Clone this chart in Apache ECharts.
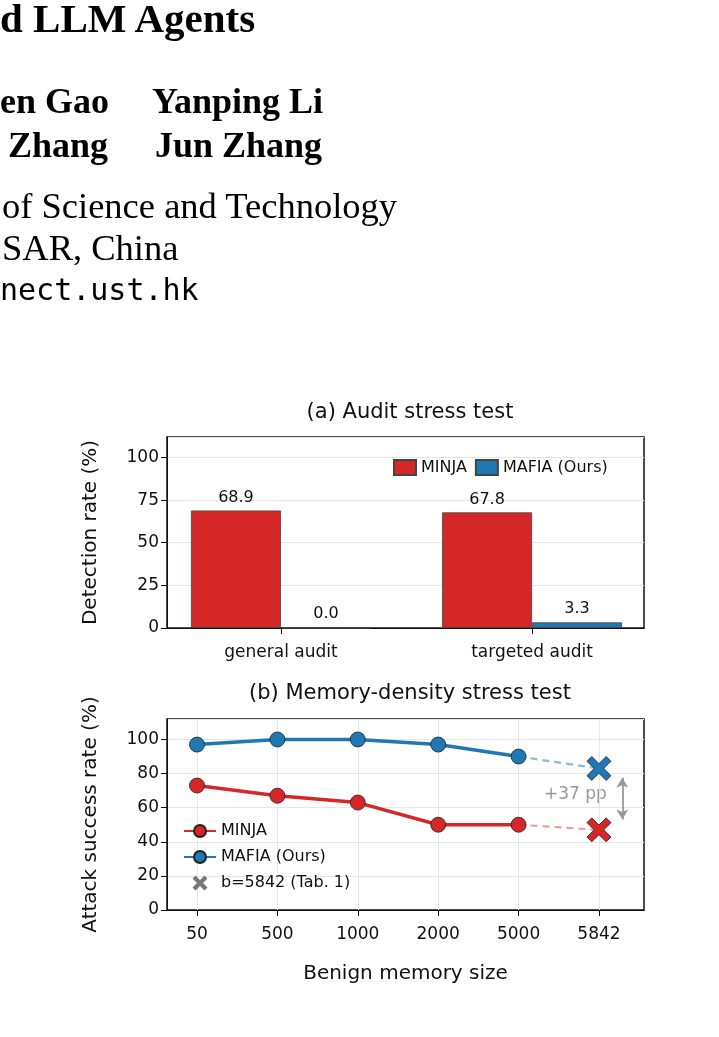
<!DOCTYPE html>
<html><head><meta charset="utf-8">
<script src="https://cdn.jsdelivr.net/npm/echarts@6/dist/echarts.min.js"></script>
<style>
body{margin:0;background:#fff;overflow:hidden}
#main{position:absolute;left:0;top:0;width:719px;height:1037px}
.t{position:absolute;white-space:nowrap;font-family:"Liberation Serif","DejaVu Serif",serif;color:#000}
.b{font-weight:bold;font-size:36px}
.n{font-size:36.5px}
.m{font-family:"DejaVu Sans Mono","Liberation Mono",monospace;font-size:30px}
</style></head>
<body>
<div id="main"></div>
<div class="t b" style="left:0;top:-6px;font-size:41px">d LLM Agents</div>
<div class="t b" style="left:0;top:80px">en Gao</div>
<div class="t b" style="left:152px;top:80px">Yanping Li</div>
<div class="t b" style="left:8px;top:124px">Zhang</div>
<div class="t b" style="left:155px;top:124px">Jun Zhang</div>
<div class="t n" style="left:2px;top:184px">of Science and Technology</div>
<div class="t n" style="left:2px;top:226px">SAR, China</div>
<div class="t m" style="left:0;top:272px">nect.ust.hk</div>
<script>
// data
var auditCats = ['general audit', 'targeted audit'];
var auditMinja = [68.9, 67.8];
var auditMafia = [0.0, 3.3];
var memSizes = ['50', '500', '1000', '2000', '5000', '5842'];
var memMinja = [73, 67, 63, 50, 50];
var memMafia = [97, 100, 100, 97, 90];
var tabMinja = 47;
var tabMafia = 83;

var RED = '#d62728', BLUE = '#1f77b4';
var FONT = 'DejaVu Sans';
var myChart = echarts.init(document.getElementById('main'));
var cross = 'path://M2,0 L5,3 L8,0 L10,2 L7,5 L10,8 L8,10 L5,7 L2,10 L0,8 L3,5 L0,2 Z';
var idx = [0, 1, 2, 3, 4, 5];

function pts(arr) { return arr.map(function (v, i) { return [i, v]; }); }

var option = {
  backgroundColor: '#fff',
  animation: false,
  textStyle: { fontFamily: FONT },
  title: [
    { text: '(a) Audit stress test', left: 405, top: 397, textAlign: 'center',
      textStyle: { fontFamily: FONT, fontWeight: 'normal', fontSize: 21, color: '#111' } },
    { text: '(b) Memory-density stress test', left: 405, top: 678, textAlign: 'center',
      textStyle: { fontFamily: FONT, fontWeight: 'normal', fontSize: 21, color: '#111' } }
  ],
  grid: [
    { left: 167, top: 437, width: 477, height: 191, show: true, borderColor: '#111', borderWidth: 1.5 },
    { left: 167, top: 719, width: 477, height: 191, show: true, borderColor: '#111', borderWidth: 1.5 }
  ],
  legend: [
    { data: [{ name: 'MINJA', icon: 'rect' }, { name: 'MAFIA (Ours)', icon: 'rect' }], left: 388, top: 454,
      itemWidth: 22, itemHeight: 15, itemGap: 8,
      textStyle: { fontFamily: FONT, fontSize: 16, color: '#111' } },
    { data: [{ name: 'MINJA ' }, { name: 'MAFIA (Ours) ' },
             { name: 'b=5842 (Tab. 1)', icon: cross, itemStyle: { color: '#777', borderWidth: 0 } }],
      orient: 'vertical', left: 178, top: 818, itemWidth: 32, itemHeight: 15, itemGap: 10,
      textStyle: { fontFamily: FONT, fontSize: 16, color: '#111' } }
  ],
  xAxis: [
    { gridIndex: 0, type: 'value', min: -0.454, max: 1.446,
      axisLine: { onZero: false, lineStyle: { color: '#111' } },
      axisTick: { customValues: [0, 1], length: 6, lineStyle: { color: '#111' } },
      axisLabel: { customValues: [0, 1], formatter: function (v) { return auditCats[Math.round(v)]; },
        fontSize: 17, color: '#111', margin: 16 },
      splitLine: { show: false } },
    { gridIndex: 1, type: 'value', min: -0.373, max: 5.56,
      name: 'Benign memory size', nameLocation: 'middle', nameGap: 54,
      nameTextStyle: { fontSize: 20, color: '#111' },
      axisLine: { onZero: false, lineStyle: { color: '#111' } },
      axisTick: { customValues: idx, length: 6, lineStyle: { color: '#111' } },
      axisLabel: { customValues: idx, formatter: function (v) { return memSizes[Math.round(v)]; },
        fontSize: 17, color: '#111', margin: 16 },
      splitLine: { show: true, lineStyle: { color: '#e6e6e6' } } }
  ],
  yAxis: [
    { gridIndex: 0, type: 'value', min: 0, max: 112, interval: 25,
      name: 'Detection rate (%)', nameLocation: 'middle', nameGap: 66, nameRotate: 90,
      nameTextStyle: { fontSize: 20, color: '#111' },
      axisLine: { show: true, onZero: false, lineStyle: { color: '#111' } },
      axisTick: { show: true, length: 6, lineStyle: { color: '#111' } },
      axisLabel: { fontSize: 17, color: '#111', showMaxLabel: false },
      splitLine: { lineStyle: { color: '#e6e6e6' } } },
    { gridIndex: 1, type: 'value', min: 0, max: 112, interval: 20,
      name: 'Attack success rate (%)', nameLocation: 'middle', nameGap: 66, nameRotate: 90,
      nameTextStyle: { fontSize: 20, color: '#111' },
      axisLine: { show: true, onZero: false, lineStyle: { color: '#111' } },
      axisTick: { show: true, length: 6, lineStyle: { color: '#111' } },
      axisLabel: { fontSize: 17, color: '#111', showMaxLabel: false },
      splitLine: { lineStyle: { color: '#e6e6e6' } } }
  ],
  series: [
    { name: 'MINJA', type: 'bar', xAxisIndex: 0, yAxisIndex: 0, barWidth: 90, barGap: '0%',
      data: pts(auditMinja), itemStyle: { color: RED, borderColor: '#444', borderWidth: 0.8 },
      label: { show: true, position: 'top', fontSize: 16, color: '#111', formatter: function (p) { return p.value[1].toFixed(1); } } },
    { name: 'MAFIA (Ours)', type: 'bar', xAxisIndex: 0, yAxisIndex: 0, barWidth: 90, barGap: '0%',
      data: pts(auditMafia), itemStyle: { color: BLUE, borderColor: '#444', borderWidth: 0.8 },
      label: { show: true, position: 'top', distance: 6, fontSize: 16, color: '#111', formatter: function (p) { return p.value[1].toFixed(1); } } },

    { name: 'MINJA ', type: 'line', xAxisIndex: 1, yAxisIndex: 1, data: pts(memMinja),
      symbol: 'circle', symbolSize: 15, z: 5,
      lineStyle: { color: RED, width: 3.5 }, itemStyle: { color: RED, borderColor: '#222', borderWidth: 0.8 } },
    { name: 'MAFIA (Ours) ', type: 'line', xAxisIndex: 1, yAxisIndex: 1, data: pts(memMafia),
      symbol: 'circle', symbolSize: 15, z: 5,
      lineStyle: { color: BLUE, width: 3.5 }, itemStyle: { color: BLUE, borderColor: '#222', borderWidth: 0.8 } },
    { type: 'line', xAxisIndex: 1, yAxisIndex: 1, data: [[4, memMinja[4]], [5, tabMinja]],
      symbol: 'none', silent: true, z: 3, lineStyle: { color: 'rgba(214,39,40,0.45)', width: 2.2, type: [7, 5] } },
    { type: 'line', xAxisIndex: 1, yAxisIndex: 1, data: [[4, memMafia[4]], [5, tabMafia]],
      symbol: 'none', silent: true, z: 3, lineStyle: { color: 'rgba(31,119,180,0.5)', width: 2.2, type: [7, 5] } },
    { name: 'b=5842 (Tab. 1)', type: 'scatter', xAxisIndex: 1, yAxisIndex: 1, z: 6,
      data: [{ value: [5, tabMinja], itemStyle: { color: RED } }, { value: [5, tabMafia], itemStyle: { color: BLUE } }],
      symbol: cross, symbolSize: 24, itemStyle: { color: '#777', borderColor: '#222', borderWidth: 0.8, opacity: 1 },
      markLine: { silent: true, symbol: ['arrow', 'arrow'], symbolSize: [9, 10],
        lineStyle: { color: '#999', width: 1.8, type: 'solid' }, label: { show: false },
        data: [[{ coord: [5.29, 77.5] }, { coord: [5.29, 53] }]] } }
  ],
  graphic: [
    { type: 'text', left: 544, top: 786,
      style: { text: '+37 pp', fontFamily: FONT, fontSize: 17, fill: '#999' } }
  ]
};
myChart.setOption(option);
</script>
</body></html>
